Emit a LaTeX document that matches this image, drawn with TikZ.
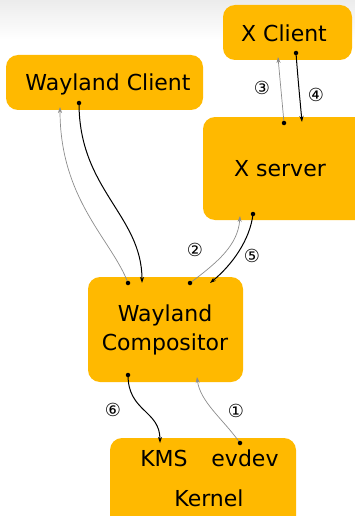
\documentclass[tikz,border=0pt]{standalone}
\usepackage{fontspec}
\setmainfont{DejaVu Sans}
\usetikzlibrary{arrows.meta}
\definecolor{boxfill}{RGB}{255,185,0}
\definecolor{lightline}{RGB}{140,140,140}
\definecolor{topgrey}{RGB}{236,236,236}
\begin{document}
\begin{tikzpicture}[x=1pt,y=-1pt,
  box/.style={fill=boxfill,rounded corners=12pt},
  lbl/.style={font=\fontsize{22}{26}\selectfont,text=black,anchor=base,inner sep=0pt},
  num/.style={font=\fontsize{18}{20}\selectfont,inner sep=0pt},
  darkarr/.style={line width=1pt,black,-{Stealth[length=6pt,width=4pt]}},
  lightarr/.style={line width=0.7pt,lightline,-{Stealth[length=6pt,width=4pt]}},
  dot/.style={circle,fill=black,inner sep=0pt,minimum size=4.5pt}]
\useasboundingbox (0,0) rectangle (355,516);
\shade[top color=topgrey,bottom color=white] (0,0) rectangle (355,40);
% boxes
\fill[box] (223,5) rectangle (352,60);
\fill[box] (6,55) rectangle (203,110);
\fill[box] (203,117) rectangle (370,220);
\fill[box] (88,277) rectangle (243,382);
\fill[box] (110,438) rectangle (296,530);
% labels
\node[lbl] (xclient) at (284,41.5) {X Client};
\node[lbl] (wclient) at (108,90.5) {Wayland Client};
\node[lbl] (xserver) at (280,176.5) {X server};
\node[lbl] (wcomp1) at (165,321.5) {Wayland};
\node[lbl] (wcomp2) at (165,350) {Compositor};
\node[lbl] (kms) at (164,466.5) {KMS};
\node[lbl] (evdev) at (245,466.5) {evdev};
\node[lbl] (kernel) at (209,506) {Kernel};
% anchor points
\coordinate (wcA) at (60,107);
\coordinate (wcB) at (79,103);
\coordinate (coA) at (128,283);
\coordinate (coB) at (142,283);
\coordinate (coC) at (190,283);
\coordinate (coD) at (210,283);
\coordinate (coE) at (128,375);
\coordinate (coF) at (197,377);
\coordinate (xcA) at (278,57);
\coordinate (xcB) at (296,53);
\coordinate (xsA) at (284,123);
\coordinate (xsB) at (302,122);
\coordinate (xsC) at (240,216);
\coordinate (xsD) at (253,214);
\coordinate (kmsT) at (160,443);
\coordinate (evT) at (240,443);
% connectors
\draw[lightarr] (coA) .. controls (112,240) and (60,200) .. (wcA);
\draw[darkarr] (wcB) .. controls (79,190) and (142,215) .. (coB);
\draw[lightarr] (xsA) .. controls (282,100) and (280,80) .. (xcA);
\draw[darkarr] (xcB) .. controls (298,80) and (300,100) .. (xsB);
\draw[lightarr] (coC) .. controls (218,262) and (238,245) .. (xsC);
\draw[darkarr] (xsD) .. controls (250,240) and (232,265) .. (coD);
\draw[darkarr] (coE) .. controls (128,412) and (160,410) .. (kmsT);
\draw[lightarr] (evT) .. controls (224,420) and (200,402) .. (coF);
% dots
\foreach \p in {coA,wcB,xsA,xcB,coC,xsD,coE,evT}
  \node[dot] at (\p) {};
% numbers
\node[num] (n3) at (262,88) {③};
\node[num] (n4) at (316,95) {④};
\node[num] (n2) at (195,250) {②};
\node[num] (n5) at (252,256) {⑤};
\node[num] (n6) at (113,410) {⑥};
\node[num] (n1) at (236,411) {①};
\end{tikzpicture}
\end{document}
